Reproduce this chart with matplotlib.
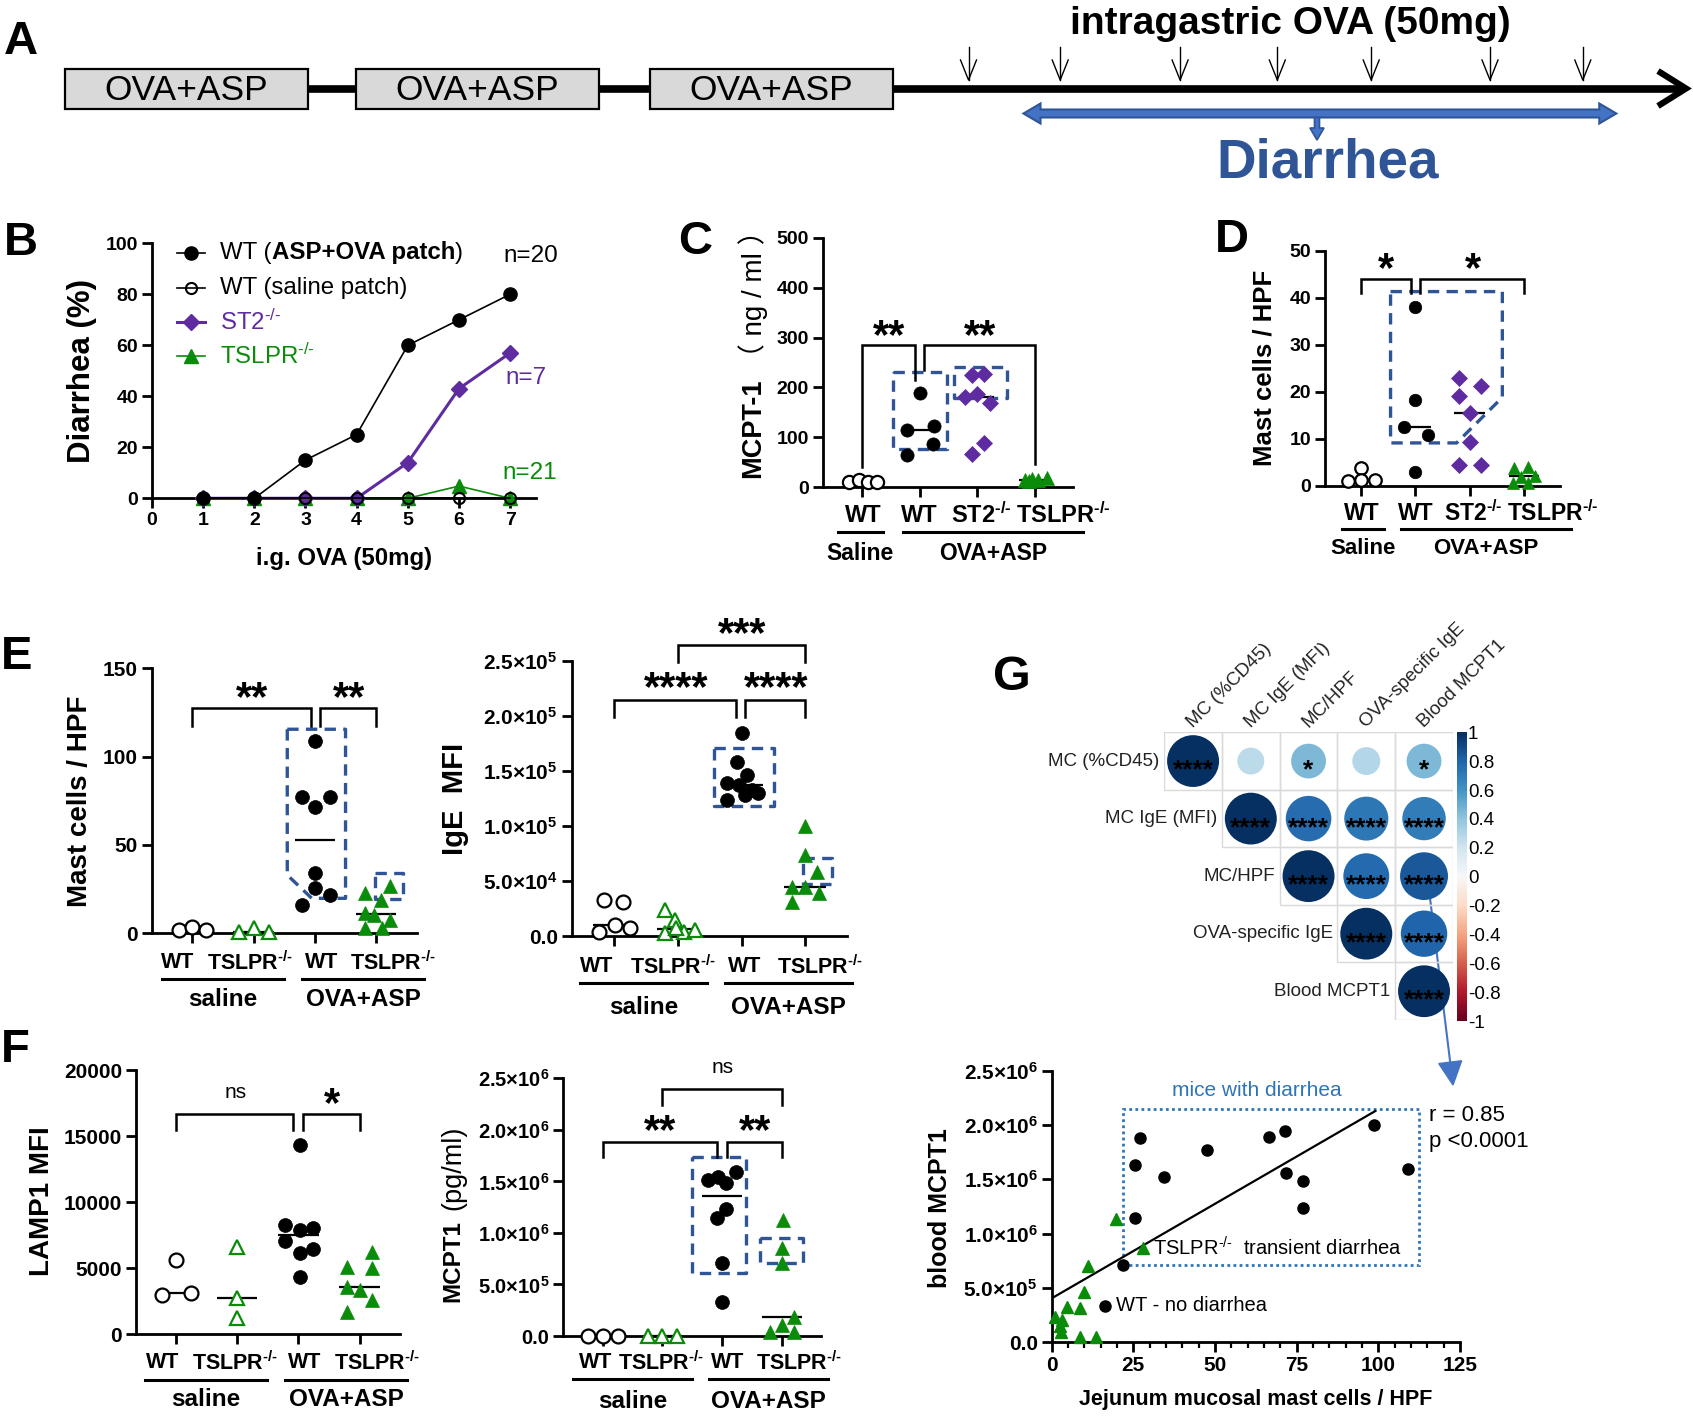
import numpy as np
import matplotlib
matplotlib.use('Agg')
import matplotlib.pyplot as plt
from matplotlib import transforms
from matplotlib.patches import Rectangle, Polygon, Circle
from matplotlib.lines import Line2D
from matplotlib.ticker import MultipleLocator
import matplotlib.colors as mcolors
import matplotlib.cm as cm

plt.rcParams.update({
    'font.family': ['Liberation Sans', 'DejaVu Sans'],
    'mathtext.fontset': 'custom',
    'mathtext.rm': 'Liberation Sans',
    'mathtext.bf': 'Liberation Sans:bold',
    'mathtext.it': 'Liberation Sans:italic',
    'mathtext.sf': 'Liberation Sans',
})

# ======================= DATA =======================
# Panel A (schematic)
a_box_labels = ['OVA+ASP', 'OVA+ASP', 'OVA+ASP']
a_title = 'intragastric OVA (50mg)'
a_diarrhea = 'Diarrhea'
a_n_gavage = 7

# Panel B: diarrhea (%) vs i.g. OVA dose
b_days = [1, 2, 3, 4, 5, 6, 7]
b_wt_asp = [0, 0, 15, 25, 60, 70, 80]
b_wt_saline = [0, 0, 0, 0, 0, 0, 0]
b_st2 = [0, 0, 0, 0, 14, 43, 57]
b_tslpr = [0, 0, 0, 0, 0, 4.8, 0]
b_n_labels = ['n=20', 'n=7', 'n=21']

# Panel C: MCPT-1 (ng/ml)
c_saline_wt = [10, 15, 10, 10]
c_ova_wt = [188, 115, 122, 87, 65]
c_ova_st2 = [225, 226, 181, 186, 168, 89, 67]
c_ova_tslpr = [15, 17, 14, 18, 12]

# Panel D: mast cells / HPF
d_saline_wt = [1.0, 3.8, 1.3, 1.3]
d_ova_wt = [38.1, 18.2, 12.4, 10.7, 3.0]
d_ova_st2 = [23.0, 21.3, 19.1, 15.5, 9.2, 4.4, 4.4]
d_ova_tslpr = [3.7, 4.0, 0.6, 2.1, 0.6, 1.9]

# Panel E left: mast cells / HPF
e1_saline_wt = [1.9, 3.8, 1.9]
e1_saline_tslpr = [0.9, 2.8, 0.9]
e1_ova_wt = [109, 77, 77, 71.7, 34.3, 25.5, 21.7, 16]
e1_ova_tslpr = [22.6, 26.8, 18.9, 11.7, 10.5, 7.5, 2.8, 2.8]

# Panel E right: IgE MFI
e2_saline_wt = [32700, 31200, 10000, 3900, 7000]
e2_saline_tslpr = [23600, 14500, 2400, 3900, 5500, 7000]
e2_ova_wt = [185000, 158000, 146000, 139000, 137000, 133000, 130000, 128000, 124000]
e2_ova_tslpr = [100000, 73600, 58500, 44800, 44800, 38800, 31200]

# Panel F left: LAMP1 MFI
f1_saline_wt = [5600, 2950, 3080]
f1_saline_tslpr = [6600, 2750, 1190]
f1_ova_wt = [14300, 8250, 7880, 8000, 7070, 6160, 6410, 4340]
f1_ova_tslpr = [6240, 5100, 4970, 3590, 3330, 2580, 1690]

# Panel F right: MCPT1 (pg/ml)
f2_saline_wt = [0, 0, 0]
f2_saline_tslpr = [0, 0, 0]
f2_ova_wt = [1.513e6, 1.546e6, 1.594e6, 1.481e6, 1.229e6, 1.148e6, 0.705e6, 0.333e6]
f2_ova_tslpr = [1.125e6, 0.85e6, 0.705e6, 0.188e6, 0.107e6, 0.042e6, 0.042e6]

# Panel G: correlation matrix (upper triangle)
g_names = ['MC (%CD45)', 'MC IgE (MFI)', 'MC/HPF', 'OVA-specific IgE', 'Blood MCPT1']
g_corr = [[1.00, 0.27, 0.45, 0.29, 0.45],
          [None, 1.00, 0.77, 0.72, 0.70],
          [None, None, 1.00, 0.78, 0.85],
          [None, None, None, 1.00, 0.80],
          [None, None, None, None, 1.00]]
g_sig = [['****', '', '*', '', '*'],
         ['', '****', '****', '****', '****'],
         ['', '', '****', '****', '****'],
         ['', '', '', '****', '****'],
         ['', '', '', '', '****']]
g_cbar_ticks = [1, 0.8, 0.6, 0.4, 0.2, 0, -0.2, -0.4, -0.6, -0.8, -1]

# Panel G scatter: blood MCPT1 vs jejunum mast cells / HPF
gs_wt_x = [27.1, 25.5, 34.5, 47.4, 66.6, 71.5, 98.6, 109.1, 71.8, 76.8, 76.8, 25.5, 21.8, 16.3]
gs_wt_y = [1.877e6, 1.632e6, 1.518e6, 1.770e6, 1.892e6, 1.948e6, 1.997e6, 1.598e6,
           1.561e6, 1.481e6, 1.239e6, 1.147e6, 0.708e6, 0.337e6]
gs_ts_x = [19.7, 27.9, 11.0, 9.8, 4.8, 8.8, 1.1, 3.1, 2.6, 2.8, 8.8, 13.6]
gs_ts_y = [1.132e6, 0.865e6, 0.702e6, 0.46e6, 0.328e6, 0.319e6, 0.236e6, 0.206e6,
           0.15e6, 0.098e6, 0.052e6, 0.052e6]
gs_fit_intercept = 4.05e5
gs_fit_slope = 1.74e4
gs_fit_xmax = 99.1
gs_box_x = [21.8, 112.6]
gs_box_y = [0.712e6, 2.144e6]
gs_r_text = 'r = 0.85'
gs_p_text = 'p <0.0001'

# Tick labels
HY = '\u2010'
sup_b = r'$^{\mathbf{' + HY + '/' + HY + '}}$'
sup_r = r'$^{' + HY + '/' + HY + '}$'
cat_c = ['WT', 'WT', 'ST2' + sup_b, 'TSLPR' + sup_b]
cat_e = ['WT', 'TSLPR' + sup_b, 'WT', 'TSLPR' + sup_b]
grp_c = ['Saline', 'OVA+ASP']
grp_e = ['saline', 'OVA+ASP']
def sci(m, e):
    return m + r'×10$^{\mathbf{' + str(e) + '}}$'
e2_yticks = [0, 5e4, 1e5, 1.5e5, 2e5, 2.5e5]
e2_yticklabels = ['0.0', sci('5.0', 4), sci('1.0', 5), sci('1.5', 5), sci('2.0', 5), sci('2.5', 5)]
m6_yticks = [0, 5e5, 1e6, 1.5e6, 2e6, 2.5e6]
m6_yticklabels = ['0.0', sci('5.0', 5), sci('1.0', 6), sci('1.5', 6), sci('2.0', 6), sci('2.5', 6)]

# ======================= STYLE / LAYOUT =======================
GREEN = '#0A8C0A'
PURPLE = '#5E2CA0'
BLUE = '#2F5597'
LBLUE = '#4472C4'
DOT_BLUE = '#2E75B6'

W, H = 1693, 1416
fig = plt.figure(figsize=(W / 100, H / 100), dpi=100)

def fy(y):
    return 1 - y / H

def px_axes(l, t, r, b):
    ax = fig.add_axes([l / W, 1 - b / H, (r - l) / W, (b - t) / H])
    ax.patch.set_visible(False)
    return ax

ov = fig.add_axes([0, 0, 1, 1])
ov.set_xlim(0, W); ov.set_ylim(H, 0); ov.axis('off')

def setup(ax, xlim, ylim, yticks, yticklabels=None, tick_fs=13, xticks=None):
    ax.set_xlim(*xlim); ax.set_ylim(*ylim)
    for s in ['top', 'right']:
        ax.spines[s].set_visible(False)
    for s in ['left', 'bottom']:
        ax.spines[s].set_linewidth(2.0)
    ax.set_xticks(range(4) if xticks is None else xticks)
    ax.set_yticks(yticks)
    if yticklabels is not None:
        ax.set_yticklabels(yticklabels)
    ax.tick_params(axis='both', length=7, width=2.0, direction='out', pad=3,
                   labelsize=tick_fs)
    for lab in ax.get_yticklabels() + ax.get_xticklabels():
        lab.set_fontweight('bold')

STY = {
    'wt_open': dict(marker='o', mfc='white', mec='black', mew=1.6),
    'wt': dict(marker='o', mfc='black', mec='black', mew=0.5),
    'st2': dict(marker='D', mfc=PURPLE, mec=PURPLE, mew=0.5),
    'tslpr_open': dict(marker='^', mfc='white', mec=GREEN, mew=1.6),
    'tslpr': dict(marker='^', mfc=GREEN, mec=GREEN, mew=0.5),
}

def dots(ax, groups, ms=9.5, med_hw=0.3):
    for cat, vals, offs, sty in groups:
        x = cat + np.asarray(offs, dtype=float)
        m = ms * 0.85 if sty == 'st2' else ms
        ax.plot(x, vals, ls='none', ms=m, clip_on=False, zorder=4, **STY[sty])
        med = np.median(vals)
        ax.plot([cat - med_hw, cat + med_hw], [med, med], color='black', lw=1.6,
                zorder=3, solid_capstyle='butt', clip_on=False)

def bracket(ax, x1, x2, ytop, yl1, yl2):
    ax.plot([x1, x1, x2, x2], [yl1, ytop, ytop, yl2], color='black', lw=1.8,
            clip_on=False, zorder=5, solid_joinstyle='miter')

def stars(ax, x, y, s, fs=30):
    # asterisk glyph centre sits ~0.57 em above the baseline
    ax.annotate(s, xy=(x, y), xytext=(0, -0.57 * fs + 3), textcoords='offset points',
                ha='center', va='baseline', fontsize=fs, fontweight='bold',
                annotation_clip=False, zorder=6)

def ns(ax, x, y, fs=15):
    ax.text(x, y, 'ns', ha='center', va='center', fontsize=fs, clip_on=False, zorder=6)

def dashed(ax, xs, ys):
    ax.plot(xs, ys, color=BLUE, lw=2.4, ls=(0, (3.4, 2.2)), clip_on=False, zorder=2)

def rect_dashed(ax, x0, x1, y0, y1):
    dashed(ax, [x0, x1, x1, x0, x0], [y1, y1, y0, y0, y1])

def cat_labels(ax, xs, labels, y_px, fs):
    tr = transforms.blended_transform_factory(ax.transData, fig.transFigure)
    for x, s in zip(xs, labels):
        ax.text(x, fy(y_px), s, transform=tr, ha='center', va='center', fontsize=fs,
                fontweight='bold', clip_on=False)

def group_lines(ax, spans, labels, y_line, y_lab, fs):
    tr = transforms.blended_transform_factory(ax.transData, fig.transFigure)
    for (a, b), s in zip(spans, labels):
        ax.add_line(Line2D([a, b], [fy(y_line)] * 2, transform=tr, color='black',
                           lw=2.2, clip_on=False))
        ax.text((a + b) / 2, fy(y_lab), s, transform=tr, ha='center', va='center',
                fontsize=fs, fontweight='bold', clip_on=False)

def ylabel(x, y, s, fs, bold=True, va='center'):
    ov.text(x, y, s, rotation=90, ha='center', va=va, fontsize=fs,
            fontweight='bold' if bold else 'normal')

def letter(x, y, s, fs=34):
    ov.text(x, y, s, ha='center', va='center', fontsize=fs, fontweight='bold')

# ======================= PANEL A =======================
letter(21, 42, 'A')
box_left = [65, 356, 650]
box_w, box_top, box_h = 243, 69, 40
for left, lab in zip(box_left, a_box_labels):
    ov.add_patch(Rectangle((left, box_top), box_w, box_h, fc='#D9D9D9', ec='black', lw=1.6, zorder=3))
    ov.text(left + box_w / 2, box_top + box_h / 2 + 1, lab, ha='center', va='center', fontsize=25.5, zorder=4)
ov.plot([box_left[0] + box_w, box_left[1]], [88.5, 88.5], color='k', lw=5.5, solid_capstyle='butt')
ov.plot([box_left[1] + box_w, box_left[2]], [88.5, 88.5], color='k', lw=5.5, solid_capstyle='butt')
ov.plot([box_left[2] + box_w, 1684], [88.5, 88.5], color='k', lw=5.5, solid_capstyle='butt')
ov.plot([1658, 1686, 1658], [71, 88.5, 106], color='k', lw=4.5, solid_joinstyle='miter', solid_capstyle='butt')
arrow_x = [968.5, 1060.2, 1180.1, 1277.3, 1371.2, 1490, 1582.8][:a_n_gavage]
for x in arrow_x:
    ov.plot([x, x], [47, 80], color='k', lw=1.0)
    ov.plot([x - 8, x, x + 8], [60, 80, 60], color='k', lw=1.0)
ov.text(1290, 24, a_title, ha='center', va='center', fontsize=28, fontweight='bold')
# blue double arrow
x1, x2, yc, t, hw, hl = 1023.5, 1616.3, 113.5, 4, 10, 17
ov.add_patch(Polygon([(x1, yc), (x1 + hl, yc - hw), (x1 + hl, yc - t), (x2 - hl, yc - t),
                      (x2 - hl, yc - hw), (x2, yc), (x2 - hl, yc + hw), (x2 - hl, yc + t),
                      (x1 + hl, yc + t), (x1 + hl, yc + hw)], closed=True,
                     fc=LBLUE, ec=BLUE, lw=1.5, zorder=3))
xc = 1317
ov.add_patch(Polygon([(xc - 2.5, yc + t), (xc + 2.5, yc + t), (xc + 2.5, 128), (xc + 7, 128),
                      (xc, 140), (xc - 7, 128), (xc - 2.5, 128)], closed=True,
                     fc=LBLUE, ec=BLUE, lw=1.2, zorder=3))
ov.text(1328, 163, a_diarrhea, ha='center', va='center', fontsize=39.5, fontweight='bold', color=BLUE)

# ======================= PANEL B =======================
letter(21, 243, 'B')
axB = px_axes(152, 243.3, 535.7, 498.3)
setup(axB, (0, 7.5), (0, 100), range(0, 101, 20), tick_fs=14, xticks=range(0, 8))
axB.plot(b_days, b_tslpr, color=GREEN, lw=1.2, marker='^', ms=10, mfc=GREEN, mec=GREEN, clip_on=False, zorder=3)
axB.plot(b_days, b_st2, color=PURPLE, lw=2.2, marker='D', ms=8.5, mfc=PURPLE, mec=PURPLE, clip_on=False, zorder=4)
axB.plot(b_days, b_wt_saline, color='k', lw=1.2, marker='o', ms=8, mfc='none', mec='k', mew=1.5, clip_on=False, zorder=5)
axB.plot(b_days, b_wt_asp, color='k', lw=1.2, marker='o', ms=9.5, mfc='k', mec='k', clip_on=False, zorder=6)
ylabel(82, 371, 'Diarrhea (%)', 22.5)
ov.text(344, 558, 'i.g. OVA (50mg)', ha='center', va='center', fontsize=17.3, fontweight='bold')
# legend
leg_rows = [253, 288, 322, 356]
leg_sty = [dict(color='k', lw=1.2, marker='o', ms=9.5, mfc='k', mec='k'),
           dict(color='k', lw=1.2, marker='o', ms=8, mfc='none', mec='k', mew=1.5),
           dict(color=PURPLE, lw=2.2, marker='D', ms=8.5, mfc=PURPLE, mec=PURPLE),
           dict(color=GREEN, lw=1.2, marker='^', ms=10, mfc=GREEN, mec=GREEN)]
for y, st in zip(leg_rows, leg_sty):
    ov.plot([177, 205], [y, y], **{k: v for k, v in st.items() if k in ('color', 'lw')})
    ov.plot([191], [y], ls='none', **{k: v for k, v in st.items() if k not in ('color', 'lw')})
LFS = 17.3
renderer = fig.canvas.get_renderer()
t1 = ov.text(220, leg_rows[0], 'WT (', ha='left', va='center', fontsize=LFS)
bb = t1.get_window_extent(renderer)
t2 = fig.text(bb.x1 / W, fy(leg_rows[0]), 'ASP+OVA patch', ha='left', va='center', fontsize=LFS, fontweight='bold')
bb2 = t2.get_window_extent(renderer)
fig.text(bb2.x1 / W, fy(leg_rows[0]), ')', ha='left', va='center', fontsize=LFS)
ov.text(220, leg_rows[1], 'WT (saline patch)', ha='left', va='center', fontsize=LFS)
ov.text(220, leg_rows[2], 'ST2' + sup_r, ha='left', va='center', fontsize=LFS, color=PURPLE)
ov.text(220, leg_rows[3], 'TSLPR' + sup_r, ha='left', va='center', fontsize=LFS, color=GREEN)
ov.text(531, 256, b_n_labels[0], ha='center', va='center', fontsize=17.5)
ov.text(526, 378, b_n_labels[1], ha='center', va='center', fontsize=17.5, color=PURPLE)
ov.text(530, 473, b_n_labels[2], ha='center', va='center', fontsize=17.5, color=GREEN)

# ======================= PANEL C =======================
letter(695, 242, 'C')
axC = px_axes(823, 238, 1073, 487)
setup(axC, (-0.68, 3.66), (0, 500), range(0, 501, 100), tick_fs=14)
axC.set_xticklabels([])
dots(axC, [
    (0, c_saline_wt, [-0.23, -0.06, 0.10, 0.26], 'wt_open'),
    (1, c_ova_wt, [0.0, -0.22, 0.24, 0.23, -0.22], 'wt'),
    (2, c_ova_st2, [-0.09, 0.12, -0.22, 0.0, 0.22, 0.12, -0.09], 'st2'),
    (3, c_ova_tslpr, [-0.17, -0.05, 0.06, 0.2, -0.1], 'tslpr'),
], ms=9.5, med_hw=0.28)
rect_dashed(axC, 0.54, 1.47, 77, 230)
rect_dashed(axC, 1.59, 2.51, 179, 240)
bracket(axC, 0, 0.92, 285, 40, 215)
bracket(axC, 1.08, 3, 285, 235, 47)
stars(axC, 0.47, 318, '**')
stars(axC, 2.05, 318, '**')
cat_labels(axC, [0.02, 0.99, 2.06, 3.5], cat_c, 515, 17)
group_lines(axC, [(-0.42, 0.36), (0.71, 3.83)], grp_c, 532, 553, 16.5)
ylabel(753, 478, 'MCPT-1', 19.5, va='bottom')
ov.text(753, 371, '（ ng / ml ）', rotation=90, ha='center', va='bottom', fontsize=20,
        family=['Liberation Sans', 'Noto Sans CJK SC'])

# ======================= PANEL D =======================
letter(1232, 240, 'D')
axD = px_axes(1325, 250.7, 1560, 485.7)
setup(axD, (-0.66, 3.66), (0, 50), range(0, 51, 10), tick_fs=14)
axD.set_xticklabels([])
dots(axD, [
    (0, d_saline_wt, [-0.23, 0.0, 0.0, 0.26], 'wt_open'),
    (1, d_ova_wt, [0.0, 0.0, -0.21, 0.23, 0.0], 'wt'),
    (2, d_ova_st2, [-0.2, 0.21, -0.2, 0.0, 0.0, -0.2, 0.21], 'st2'),
    (3, d_ova_tslpr, [-0.18, 0.07, -0.2, 0.2, 0.07, -0.05], 'tslpr'),
], ms=9, med_hw=0.28)
dashed(axD, [0.545, 2.6, 2.6, 1.76, 0.545, 0.545], [41.3, 41.3, 18.8, 9.1, 9.1, 41.3])
bracket(axD, 0, 0.92, 44, 41, 41)
bracket(axD, 1.09, 3, 44, 41, 41)
stars(axD, 0.47, 47.7, '*')
stars(axD, 2.06, 47.7, '*')
cat_labels(axD, [0.02, 1.0, 2.06, 3.52], cat_c, 513, 16.5)
group_lines(axD, [(-0.35, 0.42), (0.74, 3.86)], grp_c, 529, 549, 16)
ylabel(1265, 368, 'Mast cells / HPF', 18.5)

# ======================= PANEL E left =======================
letter(17, 657, 'E')
axE1 = px_axes(151.7, 668.3, 416.7, 933.3)
setup(axE1, (-0.66, 3.66), (0, 150), range(0, 151, 50), tick_fs=15)
axE1.set_xticklabels([])
dots(axE1, [
    (0, e1_saline_wt, [-0.22, 0.0, 0.23], 'wt_open'),
    (1, e1_saline_tslpr, [-0.24, 0.0, 0.25], 'tslpr_open'),
    (2, e1_ova_wt, [0.01, -0.21, 0.24, 0.01, 0.01, 0.01, 0.24, -0.21], 'wt'),
    (3, e1_ova_tslpr, [-0.18, 0.22, 0.07, -0.18, -0.03, 0.22, -0.18, 0.09], 'tslpr'),
], ms=10, med_hw=0.33)
dashed(axE1, [1.55, 2.5, 2.5, 1.95, 1.55, 1.55], [115.5, 115.5, 19.8, 19.8, 33, 115.5])
rect_dashed(axE1, 2.98, 3.44, 19.2, 34)
bracket(axE1, 0, 1.93, 127.4, 117.4, 117.4)
bracket(axE1, 2.08, 3, 127.4, 117.4, 117.4)
stars(axE1, 0.97, 137.7, '**')
stars(axE1, 2.56, 137.7, '**')
cat_labels(axE1, [-0.23, 0.95, 2.11, 3.28], cat_e, 963, 15.5)
group_lines(axE1, [(-0.49, 1.5), (1.79, 3.78)], grp_e, 979, 999, 17.5)
ylabel(80, 801, 'Mast cells / HPF', 20)

# ======================= PANEL E right =======================
axE2 = px_axes(571.7, 661, 846.7, 936)
setup(axE2, (-0.67, 3.65), (0, 2.5e5), e2_yticks, e2_yticklabels, tick_fs=15)
axE2.set_xticklabels([])
dots(axE2, [
    (0, e2_saline_wt, [-0.16, 0.13, 0.01, -0.24, 0.25], 'wt_open'),
    (1, e2_saline_tslpr, [-0.21, -0.05, -0.21, 0.1, 0.26, -0.03], 'tslpr_open'),
    (2, e2_ova_wt, [0.0, -0.07, 0.09, -0.23, -0.04, 0.17, 0.25, 0.06, -0.23], 'wt'),
    (3, e2_ova_tslpr, [0.0, 0.0, 0.18, -0.21, 0.0, 0.21, -0.21], 'tslpr'),
], ms=10, med_hw=0.33)
rect_dashed(axE2, 1.56, 2.51, 118000, 170600)
rect_dashed(axE2, 2.97, 3.42, 47000, 70600)
bracket(axE2, 0, 1.91, 215000, 199000, 199000)
bracket(axE2, 2.06, 3, 215000, 199000, 199000)
bracket(axE2, 1, 3, 264500, 249000, 249000)
stars(axE2, 0.97, 232000, '****')
stars(axE2, 2.55, 232000, '****')
stars(axE2, 2.0, 281800, '***')
cat_labels(axE2, [-0.27, 0.93, 2.05, 3.23], cat_e, 967, 15.5)
group_lines(axE2, [(-0.54, 1.45), (1.74, 3.74)], grp_e, 983, 1007, 17.5)
ylabel(455, 799, 'IgE  MFI', 21)

# ======================= PANEL F left =======================
letter(15, 1050, 'F')
axF1 = px_axes(136, 1070, 400, 1334)
setup(axF1, (-0.65, 3.66), (0, 20000), range(0, 20001, 5000), tick_fs=15)
axF1.set_xticklabels([])
dots(axF1, [
    (0, f1_saline_wt, [0.0, -0.23, 0.24], 'wt_open'),
    (1, f1_saline_tslpr, [0.0, 0.0, 0.0], 'tslpr_open'),
    (2, f1_ova_wt, [0.02, -0.21, 0.03, 0.24, -0.21, 0.03, 0.24, 0.02], 'wt'),
    (3, f1_ova_tslpr, [0.21, -0.2, 0.21, -0.2, 0.0, 0.21, -0.2], 'tslpr'),
], ms=10, med_hw=0.33)
bracket(axF1, 0, 1.92, 16640, 15450, 15450)
bracket(axF1, 2.08, 3, 16640, 15450, 15450)
ns(axF1, 0.97, 18300)
stars(axF1, 2.55, 18000, '*')
cat_labels(axF1, [-0.22, 0.97, 2.1, 3.28], cat_e, 1363, 15.5)
group_lines(axF1, [(-0.5, 1.49), (1.79, 3.78)], grp_e, 1380, 1400, 17.5)
ylabel(42, 1201, 'LAMP1 MFI', 20)

# ======================= PANEL F right =======================
axF2 = px_axes(563.3, 1078.3, 820.7, 1336)
setup(axF2, (-0.66, 3.65), (0, 2.5e6), m6_yticks, m6_yticklabels, tick_fs=14.5)
axF2.set_xticklabels([])
dots(axF2, [
    (0, f2_saline_wt, [-0.24, 0.0, 0.25], 'wt_open'),
    (1, f2_saline_tslpr, [-0.24, 0.0, 0.24], 'tslpr_open'),
    (2, f2_ova_wt, [-0.23, -0.07, 0.23, 0.07, 0.07, -0.08, 0.0, 0.0], 'wt'),
    (3, f2_ova_tslpr, [0.02, 0.0, 0.0, 0.21, 0.0, -0.2, 0.21], 'tslpr'),
], ms=10, med_hw=0.33)
rect_dashed(axF2, 1.49, 2.40, 0.608e6, 1.733e6)
rect_dashed(axF2, 2.63, 3.35, 0.711e6, 0.948e6)
bracket(axF2, 0, 1.92, 1.879e6, 1.74e6, 1.74e6)
bracket(axF2, 2.08, 3, 1.879e6, 1.74e6, 1.74e6)
bracket(axF2, 1, 3, 2.396e6, 2.24e6, 2.24e6)
stars(axF2, 0.96, 2.06e6, '**')
stars(axF2, 2.55, 2.06e6, '**')
ns(axF2, 2.0, 2.6e6)
cat_labels(axF2, [-0.12, 0.97, 2.1, 3.29], cat_e, 1363, 15.5)
group_lines(axF2, [(-0.5, 1.5), (1.78, 3.77)], grp_e, 1379, 1401, 17.5)
ylabel(453, 1302, 'MCPT1', 17.5, va='bottom')
ylabel(453, 1210, '(pg/ml)', 19.5, bold=False, va='bottom')

# ======================= PANEL G matrix =======================
letter(1012, 677, 'G', fs=35)
axG = px_axes(1164.2, 732.3, 1452.9, 1020)
axG.set_xlim(0, 5); axG.set_ylim(5, 0); axG.axis('off')
cmap = plt.get_cmap('RdBu')
norm = mcolors.Normalize(-1, 1)
n = len(g_names)
SFS = 19
for i in range(n):
    for j in range(i, n):
        axG.add_patch(Rectangle((j, i), 1, 1, fill=False, ec='#DADADA', lw=1.0, zorder=1))
        r = g_corr[i][j]
        d = 0.9 * np.sqrt(abs(r))
        axG.add_patch(Circle((j + 0.5, i + 0.5), d / 2, fc=cmap(norm(r)), ec='none', zorder=2))
        if g_sig[i][j]:
            axG.annotate(g_sig[i][j], xy=(j + 0.5, i + 0.5), xytext=(0, -0.62 * SFS),
                         textcoords='offset points', ha='center', va='baseline',
                         fontsize=SFS, fontweight='bold', color='black', zorder=3)
    axG.text(i - 0.08, i + 0.5, g_names[i], ha='right', va='center', fontsize=13.5, color='#222222')
    axG.text(i + 0.55, -0.03, g_names[i], ha='left', va='bottom', rotation=45,
             rotation_mode='anchor', fontsize=13.5, color='#222222')
cax = px_axes(1456.5, 732.3, 1466.5, 1021)
cb = fig.colorbar(cm.ScalarMappable(norm=norm, cmap=cmap), cax=cax, ticks=g_cbar_ticks)
cb.outline.set_visible(False)
cb.ax.set_yticklabels([('%g' % v) for v in g_cbar_ticks])
cb.ax.tick_params(length=0, pad=1, labelsize=13.5)

# arrow from matrix to scatter
p0 = np.array([1430.0, 898.0]); p1 = np.array([1453.0, 1085.0])
dvec = (p1 - p0) / np.linalg.norm(p1 - p0)
perp = np.array([dvec[1], -dvec[0]])
base = p1 - 23 * dvec
ov.plot([p0[0], base[0]], [p0[1], base[1]], color=LBLUE, lw=1.5)
ov.add_patch(Polygon([p1, base + 11.5 * perp, base - 11.5 * perp], closed=True, fc=LBLUE, ec=LBLUE))

# ======================= PANEL G scatter =======================
axS = px_axes(1051.7, 1070.7, 1460, 1342.3)
axS.set_xlim(0, 125); axS.set_ylim(0, 2.5e6)
for s in ['top', 'right']:
    axS.spines[s].set_visible(False)
for s in ['left', 'bottom']:
    axS.spines[s].set_linewidth(2.0)
axS.set_xticks(range(0, 126, 25))
axS.xaxis.set_minor_locator(MultipleLocator(5))
axS.set_yticks(m6_yticks)
axS.set_yticklabels(m6_yticklabels)
axS.tick_params(axis='both', which='major', length=7, width=2.0, labelsize=15, pad=3)
axS.tick_params(axis='x', which='minor', length=4, width=1.6)
for lab in axS.get_yticklabels() + axS.get_xticklabels():
    lab.set_fontweight('bold')
axS.add_patch(Rectangle((gs_box_x[0], gs_box_y[0]), gs_box_x[1] - gs_box_x[0], gs_box_y[1] - gs_box_y[0],
                        fill=False, ec=DOT_BLUE, lw=2.0, ls=(0, (1, 1.2)), zorder=2, clip_on=False))
fx_line = np.array([0, gs_fit_xmax])
axS.plot(fx_line, gs_fit_intercept + gs_fit_slope * fx_line, color='black', lw=1.6, zorder=3)
axS.plot(gs_ts_x, gs_ts_y, ls='none', marker='^', ms=8, mfc=GREEN, mec=GREEN, zorder=4, clip_on=False)
axS.plot(gs_wt_x, gs_wt_y, ls='none', marker='o', ms=8, mfc='black', mec='black', zorder=5, clip_on=False)
axS.text(62.7, 2.32e6, 'mice with diarrhea', ha='center', va='center', fontsize=15, color=DOT_BLUE)
axS.text(115.4, 2.09e6, gs_r_text, ha='left', va='center', fontsize=16, clip_on=False)
axS.text(115.4, 1.846e6, gs_p_text, ha='left', va='center', fontsize=16, clip_on=False)
axS.text(31, 0.865e6, 'TSLPR' + sup_r + '  transient diarrhea', ha='left', va='center', fontsize=14.5)
axS.text(19.8, 0.337e6, 'WT - no diarrhea', ha='left', va='center', fontsize=14.5)
ylabel(940, 1208, 'blood MCPT1', 18)
ov.text(1256, 1400, 'Jejunum mucosal mast cells / HPF', ha='center', va='center', fontsize=15.5, fontweight='bold')

fig.savefig('out.png', dpi=100)
